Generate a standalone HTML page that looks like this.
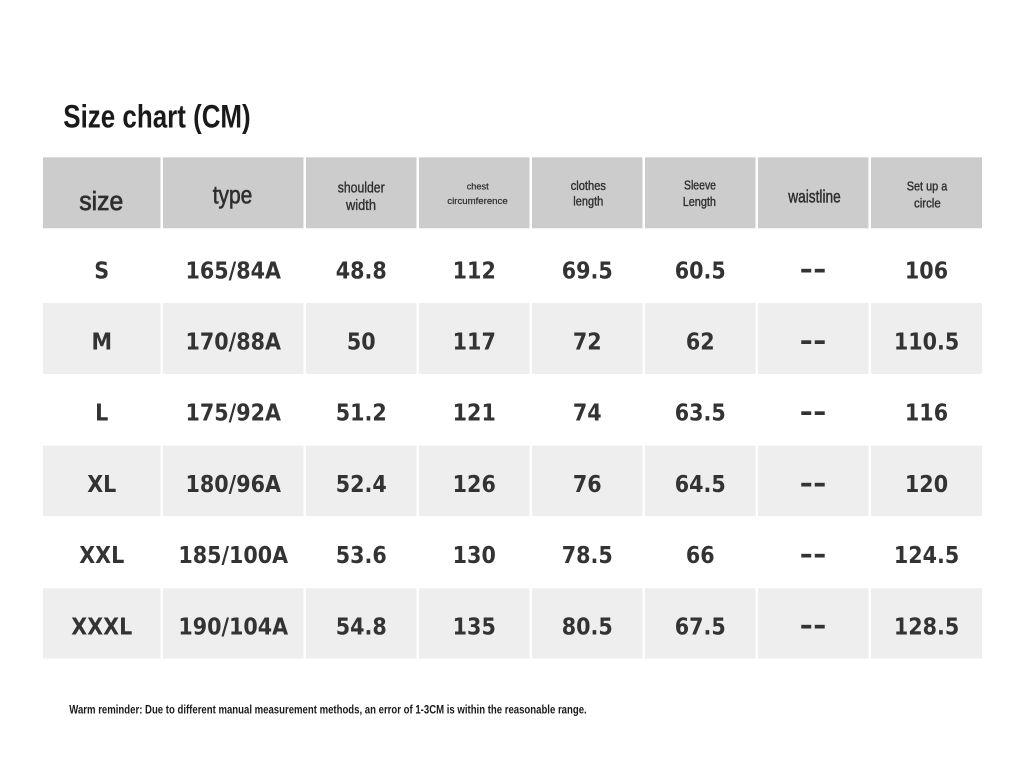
<!DOCTYPE html>
<html>
<head>
<meta charset="utf-8">
<style>
  html,body{margin:0;padding:0;background:#fff;}
  svg{display:block;}
  .v{font-family:"DejaVu Sans","Liberation Sans",sans-serif;font-weight:bold;font-size:23.5px;fill:#333;}
  .h{font-family:"Liberation Sans",sans-serif;fill:#2e2e2e;stroke:#2e2e2e;stroke-width:0.35px;}
  .d{font-family:"DejaVu Sans","Liberation Sans",sans-serif;font-weight:bold;font-size:26px;fill:#333;}
</style>
</head>
<body>
<svg width="1024" height="776" viewBox="0 0 1024 776" xmlns="http://www.w3.org/2000/svg">
  <rect x="0" y="0" width="1024" height="776" fill="#fff"/>

  <!-- Title -->
  <text x="63.3" y="127.3" font-family="Liberation Sans, sans-serif" font-weight="bold" font-size="32.5" fill="#1a1a1a" textLength="187.4" lengthAdjust="spacingAndGlyphs">Size chart (CM)</text>

  <!-- Header row -->
  <g fill="#cccccc">
    <rect x="43" y="157.3" width="117.5" height="71"/>
    <rect x="163" y="157.3" width="140.5" height="71"/>
    <rect x="306" y="157.3" width="110.5" height="71"/>
    <rect x="419" y="157.3" width="110.5" height="71"/>
    <rect x="532" y="157.3" width="110.5" height="71"/>
    <rect x="645" y="157.3" width="110.5" height="71"/>
    <rect x="758" y="157.3" width="110.5" height="71"/>
    <rect x="871" y="157.3" width="111" height="71"/>
  </g>

  <!-- Gray data rows -->
  <g fill="#efeeee">
    <rect x="43" y="303" width="117.5" height="71"/>
    <rect x="163" y="303" width="140.5" height="71"/>
    <rect x="306" y="303" width="110.5" height="71"/>
    <rect x="419" y="303" width="110.5" height="71"/>
    <rect x="532" y="303" width="110.5" height="71"/>
    <rect x="645" y="303" width="110.5" height="71"/>
    <rect x="758" y="303" width="110.5" height="71"/>
    <rect x="871" y="303" width="111" height="71"/>

    <rect x="43" y="445.6" width="117.5" height="70.6"/>
    <rect x="163" y="445.6" width="140.5" height="70.6"/>
    <rect x="306" y="445.6" width="110.5" height="70.6"/>
    <rect x="419" y="445.6" width="110.5" height="70.6"/>
    <rect x="532" y="445.6" width="110.5" height="70.6"/>
    <rect x="645" y="445.6" width="110.5" height="70.6"/>
    <rect x="758" y="445.6" width="110.5" height="70.6"/>
    <rect x="871" y="445.6" width="111" height="70.6"/>

    <rect x="43" y="588.2" width="117.5" height="70.3"/>
    <rect x="163" y="588.2" width="140.5" height="70.3"/>
    <rect x="306" y="588.2" width="110.5" height="70.3"/>
    <rect x="419" y="588.2" width="110.5" height="70.3"/>
    <rect x="532" y="588.2" width="110.5" height="70.3"/>
    <rect x="645" y="588.2" width="110.5" height="70.3"/>
    <rect x="758" y="588.2" width="110.5" height="70.3"/>
    <rect x="871" y="588.2" width="111" height="70.3"/>
  </g>

  <!-- Header labels -->
  <text class="h" x="79.3" y="210" font-size="25.5" textLength="44" lengthAdjust="spacingAndGlyphs" style="stroke-width:0.7px">size</text>
  <text class="h" x="212.7" y="203.3" font-size="25" textLength="39.6" lengthAdjust="spacingAndGlyphs" style="stroke-width:0.6px">type</text>
  <text class="h" x="337.7" y="192.3" font-size="14.5" textLength="47" lengthAdjust="spacingAndGlyphs">shoulder</text>
  <text class="h" x="346" y="210" font-size="14.5" textLength="30" lengthAdjust="spacingAndGlyphs">width</text>
  <text class="h" x="466.7" y="189.3" font-size="9.5" textLength="22" lengthAdjust="spacingAndGlyphs" style="stroke-width:0.2px">chest</text>
  <text class="h" x="447.3" y="204" font-size="9.5" textLength="60.4" lengthAdjust="spacingAndGlyphs" style="stroke-width:0.2px">circumference</text>
  <text class="h" x="570.7" y="190" font-size="12.5" textLength="35.3" lengthAdjust="spacingAndGlyphs">clothes</text>
  <text class="h" x="573.3" y="205.5" font-size="12.5" textLength="30" lengthAdjust="spacingAndGlyphs">length</text>
  <text class="h" x="684" y="189.3" font-size="12.5" textLength="32" lengthAdjust="spacingAndGlyphs">Sleeve</text>
  <text class="h" x="682.7" y="206" font-size="12.5" textLength="33.3" lengthAdjust="spacingAndGlyphs">Length</text>
  <text class="h" x="788.3" y="202.3" font-size="17.5" textLength="52.4" lengthAdjust="spacingAndGlyphs" style="stroke-width:0.45px">waistline</text>
  <text class="h" x="906.7" y="190.7" font-size="12.5" textLength="40.6" lengthAdjust="spacingAndGlyphs">Set up a</text>
  <text class="h" x="914" y="207.3" font-size="12.5" textLength="26.7" lengthAdjust="spacingAndGlyphs">circle</text>

  <!-- Data rows -->
  <g class="v" text-anchor="middle">
    <!-- S -->
    <text transform="translate(101.75,278.3) scale(0.88,1)">S</text>
    <text transform="translate(233.25,278.3) scale(0.88,1)">165/84A</text>
    <text transform="translate(361.25,278.3) scale(0.88,1)">48.8</text>
    <text transform="translate(474.25,278.3) scale(0.88,1)">112</text>
    <text transform="translate(587.25,278.3) scale(0.88,1)">69.5</text>
    <text transform="translate(700.25,278.3) scale(0.88,1)">60.5</text>
    <text transform="translate(926.5,278.3) scale(0.88,1)">106</text>
    <!-- M -->
    <text transform="translate(101.75,349.5) scale(0.88,1)">M</text>
    <text transform="translate(233.25,349.5) scale(0.88,1)">170/88A</text>
    <text transform="translate(361.25,349.5) scale(0.88,1)">50</text>
    <text transform="translate(474.25,349.5) scale(0.88,1)">117</text>
    <text transform="translate(587.25,349.5) scale(0.88,1)">72</text>
    <text transform="translate(700.25,349.5) scale(0.88,1)">62</text>
    <text transform="translate(926.5,349.5) scale(0.88,1)">110.5</text>
    <!-- L -->
    <text transform="translate(101.75,420.7) scale(0.88,1)">L</text>
    <text transform="translate(233.25,420.7) scale(0.88,1)">175/92A</text>
    <text transform="translate(361.25,420.7) scale(0.88,1)">51.2</text>
    <text transform="translate(474.25,420.7) scale(0.88,1)">121</text>
    <text transform="translate(587.25,420.7) scale(0.88,1)">74</text>
    <text transform="translate(700.25,420.7) scale(0.88,1)">63.5</text>
    <text transform="translate(926.5,420.7) scale(0.88,1)">116</text>
    <!-- XL -->
    <text transform="translate(101.75,492) scale(0.88,1)">XL</text>
    <text transform="translate(233.25,492) scale(0.88,1)">180/96A</text>
    <text transform="translate(361.25,492) scale(0.88,1)">52.4</text>
    <text transform="translate(474.25,492) scale(0.88,1)">126</text>
    <text transform="translate(587.25,492) scale(0.88,1)">76</text>
    <text transform="translate(700.25,492) scale(0.88,1)">64.5</text>
    <text transform="translate(926.5,492) scale(0.88,1)">120</text>
    <!-- XXL -->
    <text transform="translate(101.75,563.2) scale(0.88,1)">XXL</text>
    <text transform="translate(233.25,563.2) scale(0.88,1)">185/100A</text>
    <text transform="translate(361.25,563.2) scale(0.88,1)">53.6</text>
    <text transform="translate(474.25,563.2) scale(0.88,1)">130</text>
    <text transform="translate(587.25,563.2) scale(0.88,1)">78.5</text>
    <text transform="translate(700.25,563.2) scale(0.88,1)">66</text>
    <text transform="translate(926.5,563.2) scale(0.88,1)">124.5</text>
    <!-- XXXL -->
    <text transform="translate(101.75,634.3) scale(0.88,1)">XXXL</text>
    <text transform="translate(233.25,634.3) scale(0.88,1)">190/104A</text>
    <text transform="translate(361.25,634.3) scale(0.88,1)">54.8</text>
    <text transform="translate(474.25,634.3) scale(0.88,1)">135</text>
    <text transform="translate(587.25,634.3) scale(0.88,1)">80.5</text>
    <text transform="translate(700.25,634.3) scale(0.88,1)">67.5</text>
    <text transform="translate(926.5,634.3) scale(0.88,1)">128.5</text>
  </g>

  <!-- Waistline dashes "--" as real text -->
  <g class="d">
    <text x="799.5" y="278.2" textLength="27" lengthAdjust="spacingAndGlyphs">--</text>
    <text x="799.5" y="349.4" textLength="27" lengthAdjust="spacingAndGlyphs">--</text>
    <text x="799.5" y="420.6" textLength="27" lengthAdjust="spacingAndGlyphs">--</text>
    <text x="799.5" y="491.9" textLength="27" lengthAdjust="spacingAndGlyphs">--</text>
    <text x="799.5" y="563.1" textLength="27" lengthAdjust="spacingAndGlyphs">--</text>
    <text x="799.5" y="634.2" textLength="27" lengthAdjust="spacingAndGlyphs">--</text>
  </g>

  <!-- Footer -->
  <text x="69.3" y="713.3" font-family="Liberation Sans, sans-serif" font-weight="bold" font-size="11.5" fill="#1a1a1a" textLength="517.4" lengthAdjust="spacingAndGlyphs">Warm reminder: Due to different manual measurement methods, an error of 1-3CM is within the reasonable range.</text>
</svg>
</body>
</html>
